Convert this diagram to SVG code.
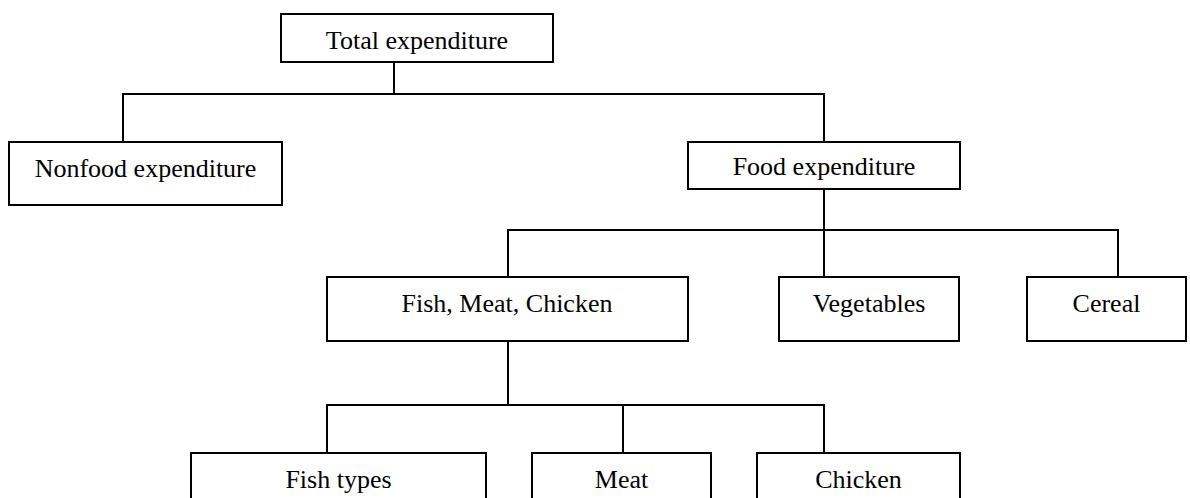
<svg xmlns="http://www.w3.org/2000/svg" width="1190" height="498" viewBox="0 0 1190 498">
  <style>
    .box { fill: #ffffff; stroke: #000000; stroke-width: 2; }
    .lbl { font-family: "Liberation Serif", "Times New Roman", serif; font-size: 26px; fill: #000000; text-anchor: middle; }
    .wire { fill: none; stroke: #000000; stroke-width: 2; }
  </style>
  <rect width="1190" height="498" fill="#ffffff"/>

  <!-- connectors -->
  <g id="connectors" class="wire">
    <!-- total -> nonfood / food -->
    <path d="M394,62 V94"/>
    <path d="M123,142 V94 H824 V142"/>
    <!-- food -> groups -->
    <path d="M824,189 V230"/>
    <path d="M508,277 V230 H1118 V277"/>
    <path d="M824,230 V277"/>
    <!-- fish, meat, chicken -> items -->
    <path d="M508,341 V405"/>
    <path d="M327,453 V405 H824 V453"/>
    <path d="M623,405 V453"/>
  </g>

  <g id="total">
    <rect class="box" x="281" y="14" width="272" height="48"/>
    <text class="lbl" x="417" y="49">Total expenditure</text>
  </g>
  <g id="nonfood">
    <rect class="box" x="9" y="142" width="273" height="63"/>
    <text class="lbl" x="145.5" y="177">Nonfood expenditure</text>
  </g>
  <g id="food">
    <rect class="box" x="688" y="142" width="272" height="47"/>
    <text class="lbl" x="824" y="175">Food expenditure</text>
  </g>
  <g id="fish-meat-chicken">
    <rect class="box" x="327" y="277" width="361" height="64"/>
    <text class="lbl" x="507" y="312">Fish, Meat, Chicken</text>
  </g>
  <g id="vegetables">
    <rect class="box" x="779" y="277" width="180" height="64"/>
    <text class="lbl" x="869" y="312">Vegetables</text>
  </g>
  <g id="cereal">
    <rect class="box" x="1027" y="277" width="159" height="64"/>
    <text class="lbl" x="1106.5" y="312">Cereal</text>
  </g>
  <g id="fish-types">
    <rect class="box" x="191" y="453" width="295" height="60"/>
    <text class="lbl" x="338.5" y="488">Fish types</text>
  </g>
  <g id="meat">
    <rect class="box" x="532" y="453" width="179" height="60"/>
    <text class="lbl" x="621.5" y="488">Meat</text>
  </g>
  <g id="chicken">
    <rect class="box" x="757" y="453" width="203" height="60"/>
    <text class="lbl" x="858.5" y="488">Chicken</text>
  </g>
</svg>
